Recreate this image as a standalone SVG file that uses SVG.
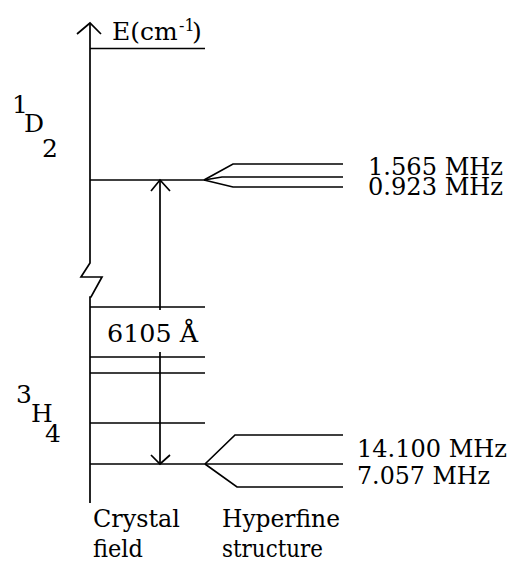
<svg xmlns="http://www.w3.org/2000/svg" width="521" height="573" viewBox="0 0 521 573">
<style>
.ln{stroke:#000;stroke-width:1.7;fill:none;stroke-linejoin:miter;stroke-linecap:butt}
text{font-family:'DejaVu Serif','Liberation Serif',serif;fill:#000}
.t{font-size:25px}
.h{font-size:24px}
.s{font-size:16px}
</style>
<rect width="521" height="573" fill="#fff"/>
<g id="axis">
<path class="ln" d="M90,24 V263 L81,277 H102 L91,297 H90 V503"/>
<path class="ln" d="M77,34 L90,23 L101,34"/>
<path class="ln" d="M90,48.5 H205"/>
<text class="t" x="112" y="40">E(cm<tspan class="s" x="179" y="31">-1</tspan><tspan x="192" y="40">)</tspan></text>
</g>
<g id="level-1D2">
<path class="ln" d="M90,180 H205"/>
<text class="t" x="12" y="113">1<tspan x="24" y="132">D</tspan><tspan x="42" y="157">2</tspan></text>
</g>
<g id="hyperfine-upper">
<path class="ln" d="M204,180 L233,164 H343"/>
<path class="ln" d="M204,180 L222,177 H343"/>
<path class="ln" d="M204,180 L233,187 H343"/>
<text class="h" x="368" y="175" textLength="135" lengthAdjust="spacingAndGlyphs">1.565 MHz</text>
<text class="h" x="368" y="195" textLength="135" lengthAdjust="spacingAndGlyphs">0.923 MHz</text>
</g>
<g id="level-3H4">
<path class="ln" d="M90,307 H205 M90,357 H205 M90,373 H205 M90,423 H205 M90,464 H205"/>
<text class="t" x="16" y="403">3<tspan x="31" y="422">H</tspan><tspan x="45" y="442">4</tspan></text>
</g>
<g id="hyperfine-lower">
<path class="ln" d="M205,464 L235,435 H343"/>
<path class="ln" d="M205,464 H343"/>
<path class="ln" d="M205,464 L237,487 H343"/>
<text class="t" x="357" y="457" textLength="150" lengthAdjust="spacingAndGlyphs">14.100 MHz</text>
<text class="t" x="357" y="484" textLength="133" lengthAdjust="spacingAndGlyphs">7.057 MHz</text>
</g>
<g id="connectors">
<path class="ln" d="M160,181 V310 M160,352 V463"/>
<path class="ln" d="M151,191 L160,180 L170,191"/>
<path class="ln" d="M151,455 L160,464 L170,455"/>
</g>
<g id="transition-label">
<text class="t" x="107" y="342" textLength="91" lengthAdjust="spacingAndGlyphs">6105 Å</text>
</g>
<g id="footer-labels">
<text class="t" x="93" y="527" textLength="87" lengthAdjust="spacingAndGlyphs">Crystal</text>
<text class="t" x="93" y="557" textLength="50" lengthAdjust="spacingAndGlyphs">field</text>
<text class="t" x="222" y="527" textLength="118" lengthAdjust="spacingAndGlyphs">Hyperfine</text>
<text class="t" x="222" y="557" textLength="101" lengthAdjust="spacingAndGlyphs">structure</text>
</g>
</svg>
